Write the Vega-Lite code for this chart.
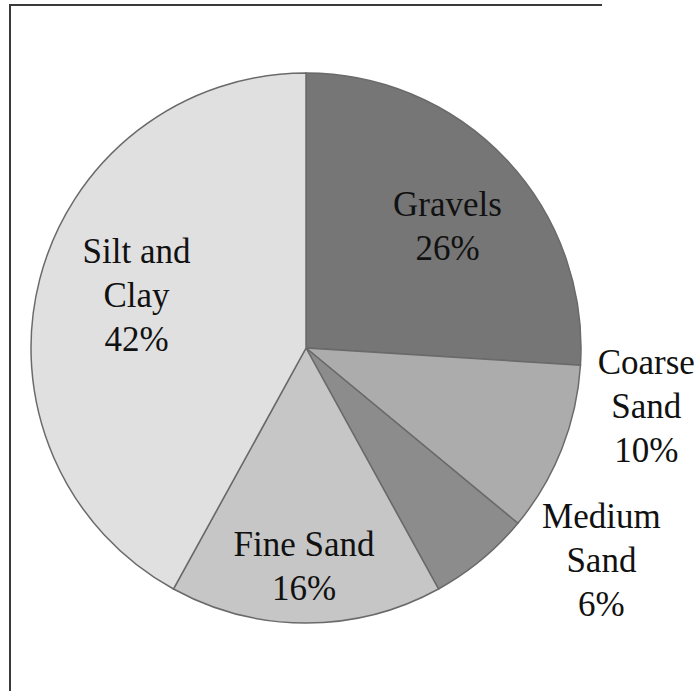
{
  "$schema": "https://vega.github.io/schema/vega-lite/v6.json",
  "width": 592,
  "height": 686,
  "padding": {"left": 10, "top": 5, "right": 98, "bottom": 2},
  "autosize": {"type": "none"},
  "background": "white",
  "view": {"stroke": "#3a3a3a", "strokeWidth": 2, "strokeDash": [592, 1278, 686]},
  "config": {
    "view": {"stroke": "#3a3a3a", "strokeWidth": 2, "strokeDash": [592, 1278, 686]},
    "text": {"font": "Liberation Serif", "fontSize": 35, "color": "#111111", "lineHeight": 44, "lineBreak": "|", "align": "center", "baseline": "middle"}
  },
  "data": {
    "values": [
      {"category": "Gravels", "percent": 26, "label": "Gravels|26%"},
      {"category": "Coarse Sand", "percent": 10, "label": "Coarse|Sand|10%"},
      {"category": "Medium Sand", "percent": 6, "label": "Medium|Sand|6%"},
      {"category": "Fine Sand", "percent": 16, "label": "Fine Sand|16%"},
      {"category": "Silt and Clay", "percent": 42, "label": "Silt and|Clay|42%"}
    ]
  },
  "transform": [{"window": [{"op": "row_number", "as": "idx"}]}],
  "encoding": {
    "theta": {"field": "percent", "type": "quantitative", "stack": true},
    "order": {"field": "idx", "type": "quantitative"}
  },
  "layer": [
    {
      "mark": {"type": "arc", "outerRadius": 275, "stroke": "#6a6a6a", "strokeWidth": 1.5},
      "encoding": {
        "color": {
          "field": "category", "type": "nominal", "legend": null,
          "scale": {
            "domain": ["Gravels", "Coarse Sand", "Medium Sand", "Fine Sand", "Silt and Clay"],
            "range": ["#767676", "#acacac", "#8c8c8c", "#c6c6c6", "#e0e0e0"]
          }
        }
      }
    },
    {
      "mark": {"type": "text", "radius": 190, "dx": 3, "dy": -13},
      "encoding": {"text": {"condition": {"test": "datum.category == 'Gravels'", "field": "label"}, "value": ""}}
    },
    {
      "mark": {"type": "text", "radius": 366, "dx": 0, "dy": -120},
      "encoding": {"text": {"condition": {"test": "datum.category == 'Coarse Sand'", "field": "label"}, "value": ""}}
    },
    {
      "mark": {"type": "text", "radius": 363, "dx": 64, "dy": -111},
      "encoding": {"text": {"condition": {"test": "datum.category == 'Medium Sand'", "field": "label"}, "value": ""}}
    },
    {
      "mark": {"type": "text", "radius": 218, "dx": -2, "dy": -21},
      "encoding": {"text": {"condition": {"test": "datum.category == 'Fine Sand'", "field": "label"}, "value": ""}}
    },
    {
      "mark": {"type": "text", "radius": 175, "dx": 0, "dy": -52},
      "encoding": {"text": {"condition": {"test": "datum.category == 'Silt and Clay'", "field": "label"}, "value": ""}}
    }
  ]
}
